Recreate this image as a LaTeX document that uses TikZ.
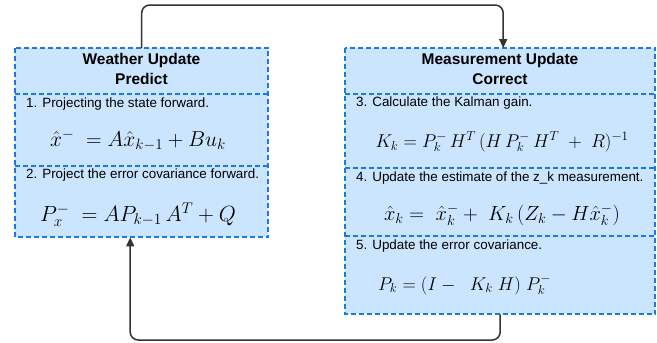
\RequirePackage{fix-cm}
\documentclass[tikz,border=0pt]{standalone}
\usepackage{fontspec}
\setmainfont{Liberation Sans}
\usetikzlibrary{arrows.meta}
\definecolor{boxfill}{RGB}{204,229,255}
\definecolor{boxline}{RGB}{26,120,235}
\definecolor{conncol}{RGB}{51,51,51}
\tikzset{
  sec/.style={rectangle, fill=boxfill, inner sep=0pt, anchor=north west},
  dashline/.style={draw=boxline, dash pattern=on 5pt off 3pt, line width=2pt},
  head/.style={font=\fontsize{15.5}{20}\selectfont\bfseries, align=center, inner sep=0pt},
  item/.style={font=\fontsize{13.4}{15}\selectfont, anchor=west, inner sep=0pt},
  eqn/.style={font=\fontsize{19}{22}\selectfont, inner sep=0pt},
  conn/.style={draw=conncol, line width=1.5pt, rounded corners=8pt, -{Triangle[length=9pt,width=8pt]}}
}
\begin{document}
\begin{tikzpicture}[x=1pt,y=-1pt]
\useasboundingbox (0,0) rectangle (657,343);
% left box
\node[sec, minimum width=253pt, minimum height=46pt] (lhead) at (15,48) {};
\node[sec, minimum width=253pt, minimum height=72pt] (l1) at (15,94) {};
\node[sec, minimum width=253pt, minimum height=71pt] (l2) at (15,166) {};
\draw[dashline] (lhead.north west) rectangle (l2.south east);
\draw[dashline] (l1.north west) -- (l1.north east);
\draw[dashline] (l2.north west) -- (l2.north east);
% right box
\node[sec, minimum width=310pt, minimum height=46pt] (rhead) at (345,48) {};
\node[sec, minimum width=310pt, minimum height=74pt] (r3) at (345,94) {};
\node[sec, minimum width=310pt, minimum height=68pt] (r4) at (345,168) {};
\node[sec, minimum width=310pt, minimum height=78pt] (r5) at (345,236) {};
\draw[dashline] (rhead.north west) rectangle (r5.south east);
\draw[dashline] (r3.north west) -- (r3.north east);
\draw[dashline] (r4.north west) -- (r4.north east);
\draw[dashline] (r5.north west) -- (r5.north east);
% texts
\node[head] (lht) at (141.5,69) {Weather Update\\Predict};
\node[item] (t1) at (26,104) {1. Projecting the state forward.};
\node[eqn, font=\fontsize{21.5}{26}\selectfont] (e1) at (138,140) {$\hat{x}^{-}\;= A\hat{x}_{k-1} + Bu_k$};
\node[item] (t2) at (26,175) {2. Project the error covariance forward.};
\node[eqn, font=\fontsize{22}{26}\selectfont] (e2) at (138,215) {$P_x^{-}\;= AP_{k-1}\,A^T + Q$};
\node[head] (rht) at (500,69) {Measurement Update\\Correct};
\node[item] (t3) at (356,103) {3. Calculate the Kalman gain.};
\node[eqn, font=\fontsize{18.5}{22}\selectfont] (e3) at (502,142) {$K_k = P_k^{-}\,H^T\,(H\,P_k^{-}\,H^T\;+\;R)^{-1}$};
\node[item] (t4) at (356,178) {4. Update the estimate of the z\_k measurement.};
\node[eqn, font=\fontsize{20.5}{24}\selectfont] (e4) at (502,215) {$\hat{x}_k =\;\hat{x}_k^{-} +\;K_k\,(Z_k - H\hat{x}_k^{-})$};
\node[item] (t5) at (356,246) {5. Update the error covariance.};
\node[eqn, anchor=west, font=\fontsize{18.5}{22}\selectfont] (e5) at (378,285) {$P_k = (I -\;\;K_k\;H)\;P_k^{-}$};
% connectors
\coordinate (topy) at (0,5);
\coordinate (boty) at (0,340);
\draw[conn] (lhead.north) -- (lhead.north |- topy) -| ([xshift=3pt]rhead.north);
\draw[conn] (r5.south) -- (r5.south |- boty) -| ([xshift=-11.5pt]l2.south);
\end{tikzpicture}
\end{document}
